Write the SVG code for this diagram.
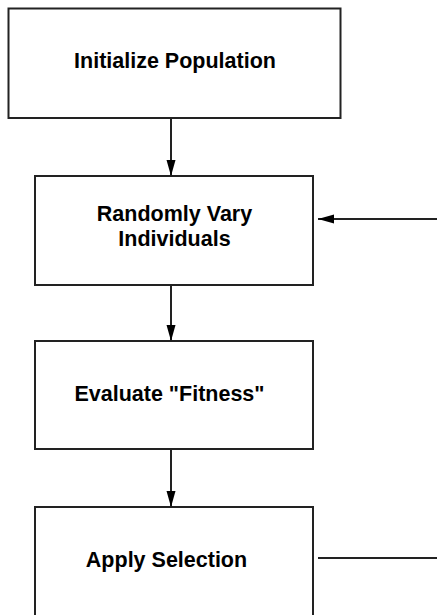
<svg xmlns="http://www.w3.org/2000/svg" width="437" height="615" viewBox="0 0 437 615">
<style>
.box{fill:#fff;stroke:#222;stroke-width:2}
.lbl{font-family:"Liberation Sans",Arial,sans-serif;font-weight:bold;font-size:21.5px;fill:#000;text-anchor:middle}
.con{stroke:#222;stroke-width:2;fill:none}
</style>
<defs>
<marker id="ah" viewBox="0 0 16 10" refX="16" refY="5" markerWidth="16" markerHeight="10" markerUnits="userSpaceOnUse" orient="auto">
<path d="M0,0.5 L16,5 L0,9.5 Z" fill="#000"/>
</marker>
</defs>
<rect width="437" height="615" fill="#fff"/>
<g id="n1"><rect class="box" x="8.5" y="8.5" width="332" height="109.5"/><text class="lbl" x="175" y="67.5">Initialize Population</text></g>
<g id="n2"><rect class="box" x="35" y="176" width="278" height="109"/><text class="lbl" x="174.5" y="221">Randomly Vary</text><text class="lbl" x="174.5" y="246">Individuals</text></g>
<g id="n3"><rect class="box" x="35" y="341" width="278" height="108"/><text class="lbl" x="169.5" y="401">Evaluate "Fitness"</text></g>
<g id="n4"><rect class="box" x="35" y="507" width="278" height="130"/><text class="lbl" x="166.5" y="567">Apply Selection</text></g>
<g id="connectors">
<line class="con" x1="171" y1="118" x2="171" y2="176" marker-end="url(#ah)"/>
<line class="con" x1="171" y1="285" x2="171" y2="341" marker-end="url(#ah)"/>
<line class="con" x1="171" y1="449" x2="171" y2="507" marker-end="url(#ah)"/>
<line class="con" x1="437" y1="219" x2="318" y2="219" marker-end="url(#ah)"/>
<line class="con" x1="318" y1="558" x2="437" y2="558"/>
</g>
</svg>
